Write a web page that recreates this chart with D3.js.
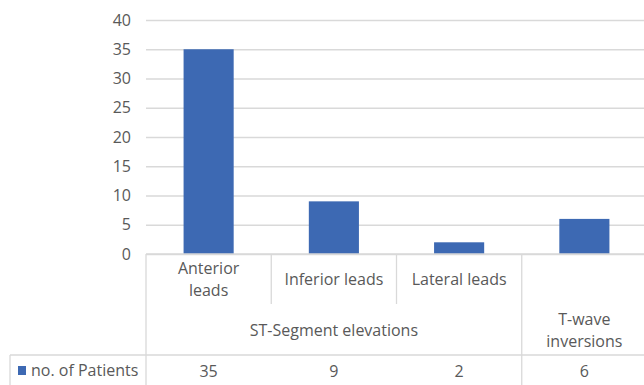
<!DOCTYPE html>
<html>
<head>
<meta charset="utf-8">
<script src="https://cdn.jsdelivr.net/npm/d3@7"></script>
<style>
  html, body { margin: 0; padding: 0; background: #fff; }
  svg { display: block; }
  text { font-family: "Open Sans", "Noto Sans", sans-serif; fill: #595959; }
</style>
</head>
<body>
<svg id="chart" width="644" height="385"></svg>
<script>
// Sub-categories, their parent groups and patient counts
const categories = ["Anterior leads", "Inferior leads", "Lateral leads", "T-wave inversions"];
const categoryLines = [["Anterior", "leads"], ["Inferior leads"], ["Lateral leads"], []];
const groups = ["ST-Segment elevations", "T-wave inversions"];
const groupLines = [["ST-Segment elevations"], ["T-wave", "inversions"]];
const groupOf = ["ST-Segment elevations", "ST-Segment elevations", "ST-Segment elevations", "T-wave inversions"];
const seriesName = "no. of Patients";
const patients = [35, 9, 2, 6];
const yTicks = [0, 5, 10, 15, 20, 25, 30, 35, 40];

(function draw() {
  const svg = d3.select("#chart");
  const W = 644;
  const plotLeft = 146, plotRight = 647, plotTop = 20, plotBase = 254;
  const innerSplit = 304, tableTop = 355, tableBottom = 385, legendLeft = 10;
  const color = "#3d69b3", gridColor = "#d9d9d9", fontSize = 16;
  const lineGap = 21.5;

  const x = d3.scaleBand().domain(categories).range([plotLeft, plotRight]).padding(0);
  const y = d3.scaleLinear().domain([0, 40]).range([plotBase, plotTop]);

  // Horizontal gridlines and y-axis labels
  const yAxis = d3.axisLeft(y).tickValues(yTicks).tickSize(-(plotRight - plotLeft)).tickPadding(15);
  const yg = svg.append("g").attr("transform", `translate(${plotLeft},0)`).call(yAxis);
  yg.select(".domain").remove();
  yg.selectAll(".tick line").attr("stroke", gridColor).attr("stroke-width", 1.3);
  yg.selectAll(".tick text").style("font-size", fontSize + "px").attr("fill", "#595959")
    .style("font-family", "'Open Sans', sans-serif");

  // Bars
  const bw = x.bandwidth() * 0.4;
  svg.append("g").selectAll("rect").data(patients).join("rect")
    .attr("x", (d, i) => x(categories[i]) + (x.bandwidth() - bw) / 2)
    .attr("width", bw)
    .attr("y", d => y(d))
    .attr("height", d => y(0) - y(d))
    .attr("fill", color);

  // Category axis with nested labels and data table
  const ax = svg.append("g").attr("stroke", gridColor).attr("stroke-width", 1.3);
  ax.append("line").attr("x1", plotLeft).attr("x2", W).attr("y1", y(0)).attr("y2", y(0));
  ax.append("line").attr("x1", legendLeft).attr("x2", W).attr("y1", tableTop).attr("y2", tableTop);
  ax.append("line").attr("x1", legendLeft).attr("x2", legendLeft).attr("y1", tableTop).attr("y2", tableBottom);
  ax.append("line").attr("x1", plotLeft).attr("x2", plotLeft).attr("y1", y(0)).attr("y2", tableBottom);

  categories.forEach((c, i) => {
    if (i === 0) return;
    const xv = x(c);
    const groupStart = groupOf[i] !== groupOf[i - 1];
    ax.append("line").attr("x1", xv).attr("x2", xv).attr("y1", y(0))
      .attr("y2", groupStart ? tableBottom : innerSplit);
  });

  // Sub-category labels
  const lab = svg.append("g").attr("text-anchor", "middle").style("font-size", fontSize + "px");
  const subMid = (y(0) + innerSplit) / 2 + 6;
  categoryLines.forEach((lines, i) => {
    const cx = x(categories[i]) + x.bandwidth() / 2;
    lines.forEach((ln, k) => {
      lab.append("text").attr("x", cx)
        .attr("y", subMid + (k - (lines.length - 1) / 2) * lineGap)
        .text(ln);
    });
  });

  // Group labels
  const groupMid = 336;
  groups.forEach((g, gi) => {
    const members = categories.filter((c, i) => groupOf[i] === g);
    const x0 = x(members[0]);
    const x1 = x(members[members.length - 1]) + x.bandwidth();
    const cx = (x0 + x1) / 2;
    const lines = groupLines[gi];
    lines.forEach((ln, k) => {
      lab.append("text").attr("x", cx)
        .attr("y", groupMid + (k - (lines.length - 1) / 2) * lineGap)
        .text(ln);
    });
  });

  // Data table row
  svg.append("rect").attr("x", 18).attr("y", 366).attr("width", 8).attr("height", 9).attr("fill", color);
  svg.append("text").attr("x", 31).attr("y", 376).style("font-size", fontSize + "px").text(seriesName);
  patients.forEach((v, i) => {
    lab.append("text").attr("x", x(categories[i]) + x.bandwidth() / 2).attr("y", 376.5).text(v);
  });
})();
</script>
</body>
</html>
